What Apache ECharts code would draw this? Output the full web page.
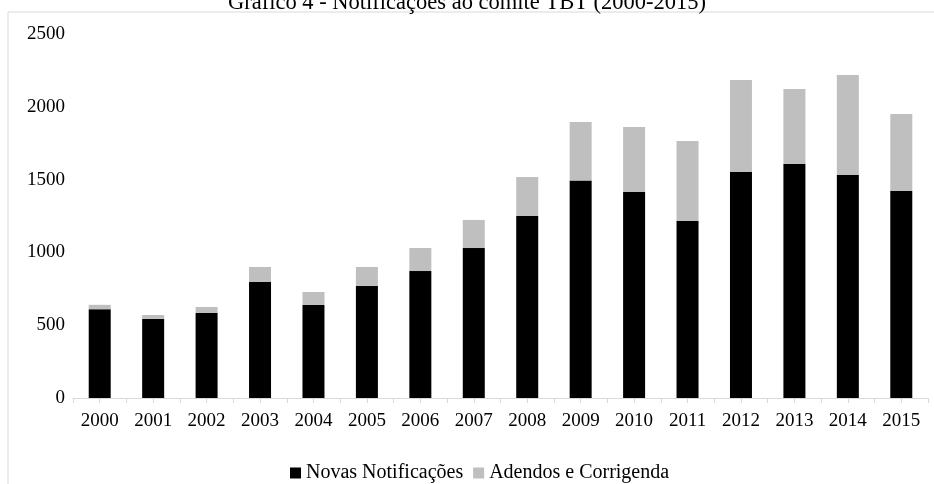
<!DOCTYPE html>
<html>
<head>
<meta charset="utf-8">
<script src="https://cdn.jsdelivr.net/npm/echarts@6/dist/echarts.min.js"></script>
<style>
    html, body { margin: 0; padding: 0; background: #fff; }
    #chart { width: 934px; height: 484px; }
</style>
</head>
<body>
<div id="chart"></div>
<script>
    const years = ['2000', '2001', '2002', '2003', '2004', '2005', '2006', '2007',
        '2008', '2009', '2010', '2011', '2012', '2013', '2014', '2015'];
    const novas = [610, 543, 584, 798, 639, 769, 872, 1030,
        1250, 1493, 1415, 1216, 1552, 1607, 1532, 1422];
    const adendos = [30, 27, 41, 102, 89, 131, 158, 193,
        268, 403, 446, 549, 632, 515, 686, 529];
    const yTicks = [0, 500, 1000, 1500, 2000, 2500];

    const font = 'Liberation Serif';
    const myChart = echarts.init(document.getElementById('chart'));
    const option = {
        animation: false,
        textStyle: {fontFamily: font, color: '#000'},
        graphic: [{
            type: 'rect',
            shape: {x: 8, y: 12, width: 940, height: 500},
            style: {fill: 'none', stroke: '#d9d9d9', lineWidth: 1},
            z: -1
        }],
        title: {
            text: 'Gráfico 4 - Notificações ao comitê TBT (2000-2015)',
            left: 'center',
            top: -13,
            textStyle: {fontFamily: font, fontSize: 22.5, fontWeight: 'normal', color: '#000'}
        },
        legend: {
            top: 458,
            left: 285,
            icon: 'rect',
            itemWidth: 11,
            itemHeight: 11,
            itemGap: 10,
            textStyle: {fontFamily: font, fontSize: 20, color: '#000'},
            data: ['Novas Notificações', 'Adendos e Corrigenda']
        },
        grid: {left: 73, right: 6, top: 34, bottom: 86},
        xAxis: [
            {
                type: 'category',
                data: years,
                axisLine: {lineStyle: {color: '#d9d9d9'}},
                axisTick: {show: false},
                axisLabel: {fontFamily: font, fontSize: 19, color: '#000', margin: 14, interval: 0}
            },
            {
                // tick marks at category edges and centres
                type: 'value',
                position: 'bottom',
                min: 0,
                max: years.length * 2,
                interval: 1,
                axisLine: {show: false},
                axisTick: {show: true, length: 5, lineStyle: {color: '#d9d9d9'}},
                axisLabel: {show: false},
                splitLine: {show: false}
            }
        ],
        yAxis: {
            type: 'value',
            min: yTicks[0],
            max: yTicks[yTicks.length - 1],
            interval: 500,
            axisLine: {show: false},
            axisTick: {show: false},
            splitLine: {show: false},
            axisLabel: {fontFamily: font, fontSize: 19, color: '#000', margin: 8,
                formatter: v => String(v)}
        },
        series: [
            {
                name: 'Novas Notificações',
                type: 'bar',
                stack: 'total',
                barWidth: 22,
                itemStyle: {color: '#000000'},
                data: novas
            },
            {
                name: 'Adendos e Corrigenda',
                type: 'bar',
                stack: 'total',
                barWidth: 22,
                itemStyle: {color: '#bfbfbf'},
                data: adendos
            }
        ]
    };
    myChart.setOption(option);
</script>
</body>
</html>
